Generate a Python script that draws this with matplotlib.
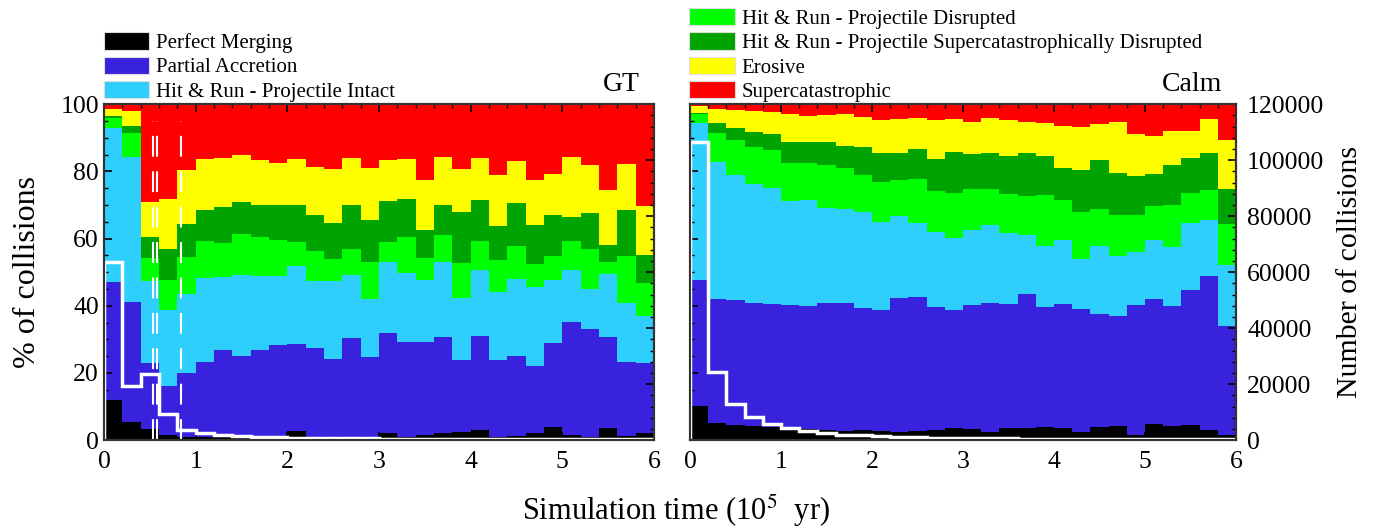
import numpy as np
import matplotlib
matplotlib.use("Agg")
import matplotlib.pyplot as plt
from matplotlib.patches import Patch
from matplotlib.ticker import MultipleLocator

plt.rcParams['font.family'] = ['Liberation Serif', 'DejaVu Serif']
plt.rcParams['mathtext.fontset'] = 'stix'

# bin edges (simulation time, 1e5 yr)
edges = np.round(np.arange(0, 6.01, 0.2), 2)

categories = ["Perfect Merging", "Partial Accretion", "Hit & Run - Projectile Intact",
              "Hit & Run - Projectile Disrupted",
              "Hit & Run - Projectile Supercatastrophically Disrupted",
              "Erosive", "Supercatastrophic"]
colors = ["#000000", "#3822de", "#2ecefd", "#00ff00", "#00a400", "#ffff00", "#ff0000"]

# GT: cumulative upper edge (%) of each category band, per bin
gt_merging = [12, 5.5, 3.2, 1.5, 1, 0.8, 0.8, 1, 0.8, 0.8, 2.7, 1, 1, 1, 1,
              2, 1, 1.5, 2, 2.5, 3, 0.8, 1.2, 2.2, 4, 1.5, 1, 3.5, 1.2, 2]
gt_partial = [47, 41, 23, 16, 20, 23.3, 26.7, 25, 26.7, 28.2, 28.7, 27.4, 24.2, 30.4, 24.7,
              31.9, 29.1, 29.2, 30.7, 24, 30.9, 23.8, 25.1, 22.2, 28.9, 35.2, 33.1, 30.7, 23.2, 23]
gt_hr_intact = [93, 84.3, 47.4, 38.7, 43.6, 48.2, 48.7, 49.2, 48.9, 48.9, 51.7, 47.4, 47.4, 49.1, 41.9,
                52.9, 49.9, 47.6, 52.9, 42.2, 50.7, 44.2, 47.9, 45.6, 47.7, 50.7, 44.9, 49.6, 40.9, 37]
gt_hr_disrupted = [96, 91.3, 54.2, 47.7, 54.4, 59.4, 58.6, 61.4, 60.6, 59.7, 59.1, 56.2, 53.9, 56.9, 53.1,
                   59.1, 60.4, 54.1, 61.1, 52.7, 59.4, 53.7, 57.9, 52.4, 54.9, 59.2, 56.9, 52.9, 54.7, 46.9]
gt_hr_supercat = [96.5, 93.5, 60.4, 56.9, 64.4, 68.6, 69.4, 70.9, 70.1, 69.9, 69.9, 66.9, 64.7, 70.1, 65.4,
                  71.1, 71.7, 62.7, 70.1, 67.9, 71.6, 63.7, 70.7, 64.1, 67.1, 66.4, 67.7, 58.1, 68.4, 55.1]
gt_erosive = [98.5, 98, 71, 71.9, 80.3, 83.8, 84.1, 84.8, 83.5, 82.5, 83.6, 81.3, 80.6, 84, 81,
              83.3, 83.8, 77.3, 84.3, 80.8, 84.1, 79, 83.1, 77.3, 79.1, 84.3, 82, 74.4, 82.3, 69.7]
gt_supercat = [100] * 30

# Calm: cumulative upper edge (%) of each category band, per bin
calm_merging = [10.2, 5, 4.5, 4.2, 4, 3.5, 3.2, 3, 2.8, 3, 2.8, 2.5, 2.8, 3, 3.5,
                3.2, 2.5, 3.5, 3.7, 3.8, 3.5, 2.3, 4, 4.3, 1.5, 4.7, 4.3, 4.5, 3, 1.5]
calm_partial = [47.6, 41.9, 41.6, 40.7, 40.4, 40.1, 39.9, 40.9, 40.9, 39.4, 38.6, 42.2, 42.7, 39.7, 38.7,
                40.1, 40.7, 40.4, 43.6, 39.7, 40.6, 38.9, 37.4, 37.1, 40.1, 42.1, 39.9, 44.6, 48.9, 34.1]
calm_hr_intact = [94.3, 82.8, 78.8, 76.1, 75.1, 71.1, 71.6, 69.1, 68.9, 67.9, 64.9, 66.7, 64.7, 61.9, 60.1,
                  62.6, 63.9, 61.7, 61.1, 57.9, 59.6, 53.9, 57.9, 54.9, 55.9, 59.6, 57.6, 64.7, 65.4, 52.2]
calm_hr_disrupted = [97, 91.5, 89.3, 87.3, 86.3, 82.6, 82.6, 82, 81.1, 78.8, 76.8, 77.3, 77.8, 74.1, 73.7,
                     74.9, 74.7, 73.4, 72.7, 73.1, 71.4, 67.9, 68.9, 66.9, 67.1, 69.6, 70.1, 73.7, 74.4, 64.2]
calm_hr_supercat = [97.3, 94.3, 92.8, 91.8, 91.1, 88.8, 88.8, 88.8, 87.6, 87.3, 85.6, 85.6, 86.8, 83.6, 85.8,
                    85.3, 85.6, 84.6, 85.6, 84.6, 81.1, 80.5, 83.5, 79.6, 78.5, 79.1, 82, 84, 85.6, 74.9]
calm_erosive = [99.6, 98.6, 98.3, 98, 97.6, 97, 96.6, 96.8, 97, 96.3, 95.3, 95.6, 96, 95.3, 95.6,
                94.6, 96, 95.3, 94.6, 94.5, 93.5, 93.3, 94, 94.6, 91, 90.5, 92, 92, 95.5, 89.3]
calm_supercat = [100] * 30

# number of collisions per bin (white line)
gt_counts = [63500, 19400, 23700, 9200, 3600, 2600, 2000, 1550, 1200, 1000, 900, 800, 700, 650, 600,
             550, 500, 480, 450, 420, 400, 380, 360, 350, 340, 330, 320, 310, 300, 290]
calm_counts = [106600, 24300, 12800, 8400, 5700, 4200, 3200, 2600, 2000, 1800, 1400, 1200, 1000, 900, 800,
               700, 650, 600, 550, 500, 480, 460, 440, 420, 400, 390, 380, 370, 360, 350]

# dashed markers in GT panel
gt_marks = [0.54, 0.575, 0.845]

gt_levels = [gt_merging, gt_partial, gt_hr_intact, gt_hr_disrupted, gt_hr_supercat, gt_erosive, gt_supercat]
calm_levels = [calm_merging, calm_partial, calm_hr_intact, calm_hr_disrupted, calm_hr_supercat,
               calm_erosive, calm_supercat]

fig = plt.figure(figsize=(13.9, 5.29), dpi=100)
ax_gt = fig.add_axes([0.0748, 0.168, 0.3957, 0.635])
ax_calm = fig.add_axes([0.4964, 0.168, 0.3928, 0.635])

frame_col = "#333333"
tick_fs = 18.5


def draw_panel(ax, levels, counts, title, show_left, show_right):
    base = np.zeros(30)
    for lev, col in zip(levels, colors):
        lev = np.array(lev, dtype=float)
        ax.stairs(lev, edges, baseline=base, fill=True, color=col, linewidth=0)
        base = lev
    ax.set_xlim(0, 6)
    ax.set_ylim(0, 100)
    ax.xaxis.set_major_locator(MultipleLocator(1))
    ax.xaxis.set_minor_locator(MultipleLocator(0.2))
    ax.yaxis.set_major_locator(MultipleLocator(20))
    ax.yaxis.set_minor_locator(MultipleLocator(5))
    ax.tick_params(which='both', direction='in', top=True, right=False, color='black')
    ax.tick_params(which='major', length=6, width=1.2, labelsize=tick_fs)
    ax.tick_params(which='minor', length=3, width=1)
    ax.tick_params(axis='x', pad=8)
    if not show_left:
        ax.tick_params(axis='y', labelleft=False)
    for sp in ax.spines.values():
        sp.set_color(frame_col)
        sp.set_linewidth(1.5)
    ax.text(0.974, 1.02, title, transform=ax.transAxes, ha='right', va='bottom', fontsize=20)

    tw = ax.twinx()
    tw.set_ylim(0, 120000)
    tw.stairs(counts, edges, color='white', linewidth=2.5)
    tw.yaxis.set_major_locator(MultipleLocator(20000))
    tw.yaxis.set_minor_locator(MultipleLocator(4000))
    tw.tick_params(which='both', direction='in', color='black')
    tw.tick_params(which='major', length=6, width=1.2, labelsize=tick_fs, pad=8)
    tw.tick_params(which='minor', length=3, width=1)
    if not show_right:
        tw.tick_params(axis='y', labelright=False)
    for sp in tw.spines.values():
        sp.set_color(frame_col)
        sp.set_linewidth(1.5)
    return tw


draw_panel(ax_gt, gt_levels, gt_counts, "GT", True, False)
draw_panel(ax_calm, calm_levels, calm_counts, "Calm", False, True)

for xm in gt_marks:
    ax_gt.axvline(xm, ymin=0, ymax=0.95, color='white', linewidth=1.5, dashes=(10, 7))

handles = [Patch(facecolor=c, edgecolor='#dddddd', linewidth=0.8) for c in colors]
leg_kw = dict(frameon=False, fontsize=15, handlelength=2.2, handleheight=0.9,
              handletextpad=0.3, labelspacing=0.17, borderpad=0, borderaxespad=0)
fig.legend(handles[:3], categories[:3], loc='upper left',
           bbox_to_anchor=(0.0745, 0.939), **leg_kw)
fig.legend(handles[3:], categories[3:], loc='upper left',
           bbox_to_anchor=(0.496, 0.985), **leg_kw)

fig.text(0.02, 0.168 + 0.635 / 2, "% of collisions", rotation=90, ha='center', va='center', fontsize=23)
fig.text(0.971, 0.168 + 0.635 / 2, "Number of collisions", rotation=90, ha='center', va='center',
         fontsize=21.5)
fig.text(0.486, 0.035, r"Simulation time (10$^5$  yr)", ha='center', va='center', fontsize=22)

fig.savefig("out.png", dpi=100)
